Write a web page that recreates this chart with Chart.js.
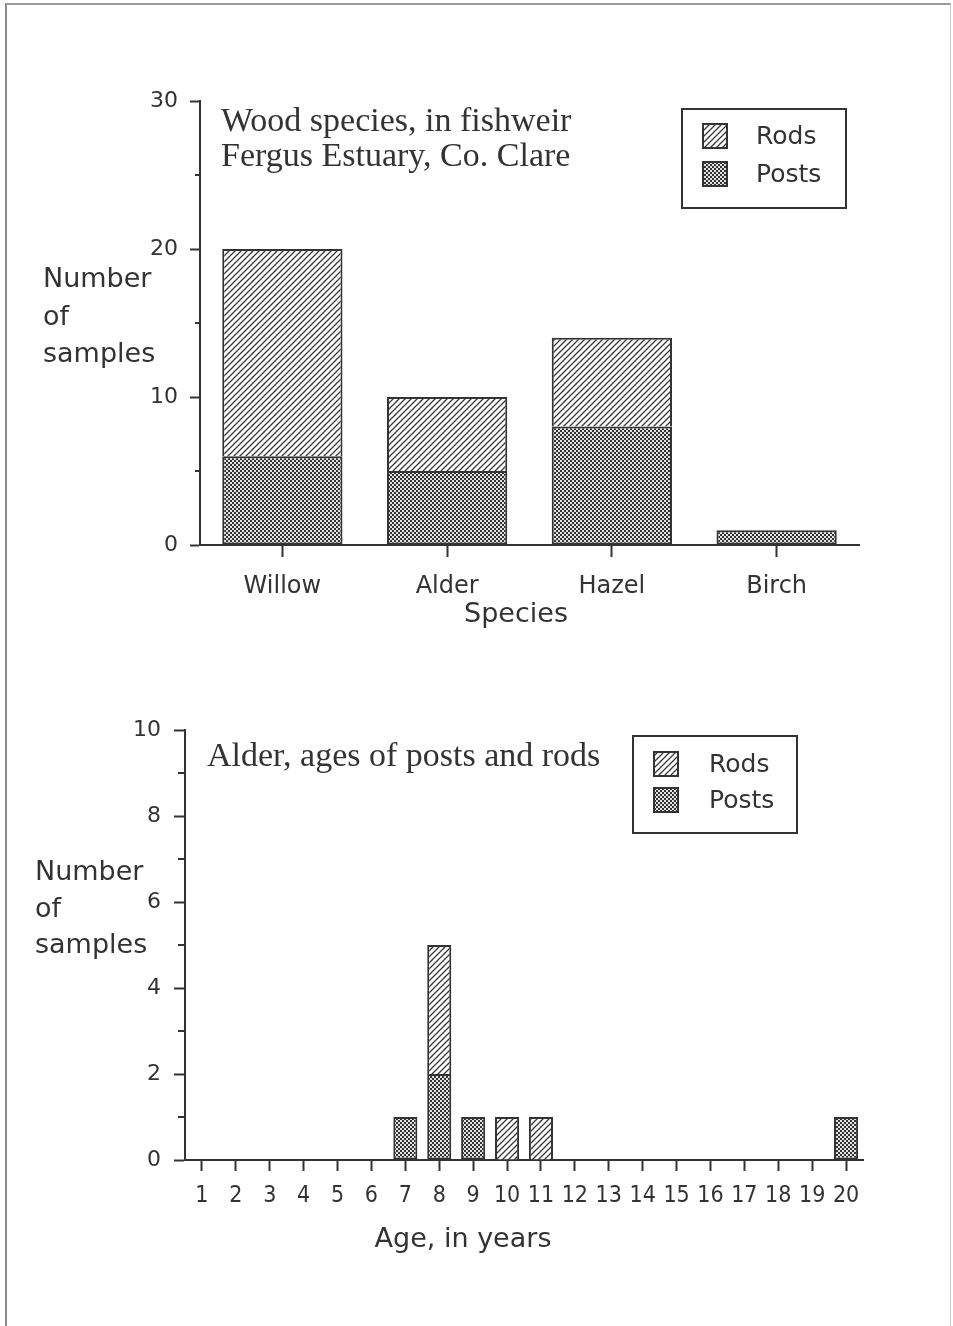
<!DOCTYPE html>
<html><head><meta charset="utf-8">
<script src="https://cdn.jsdelivr.net/npm/chart.js@4.4.1/dist/chart.umd.min.js"></script>
<style>
html,body{margin:0;padding:0;background:#fff;}
#page{position:relative;width:953px;height:1326px;overflow:hidden;background:#fff;}
#frame{position:absolute;left:5px;top:3px;width:943px;height:1340px;border-left:2px solid #8a8a8a;border-top:2px solid #9a9a9a;border-right:1px solid #d0d0d0;}
canvas{position:absolute;left:0;}
</style></head><body>
<div id="page"><div id="frame"></div>
<canvas id="c1" width="953" height="660" style="top:0"></canvas>
<canvas id="c2" width="953" height="666" style="top:660px"></canvas>
</div>
<script>
// ---- data ----
const species = ['Willow', 'Alder', 'Hazel', 'Birch'];
const speciesPosts = [6, 5, 8, 1];
const speciesRods = [14, 5, 6, null];
const speciesMajorTicks = [0, 10, 20, 30];
const speciesMinorTicks = [5, 15, 25];

const ages = ['1','2','3','4','5','6','7','8','9','10','11','12','13','14','15','16','17','18','19','20'];
const agePosts = [null,null,null,null,null,null,1,2,1,null,null,null,null,null,null,null,null,null,null,1];
const ageRods  = [null,null,null,null,null,null,null,3,null,1,1,null,null,null,null,null,null,null,null,null];
const ageMajorTicks = [0, 2, 4, 6, 8, 10];
const ageMinorTicks = [1, 3, 5, 7, 9];

const INK = '#333333';
const SANS = '"DejaVu Sans", Verdana, sans-serif';
const SERIF = '"Liberation Serif", "Times New Roman", serif';

function makeHatch(ctx) {
  const n = 6;
  const c = document.createElement('canvas'); c.width = n; c.height = n;
  const x = c.getContext('2d');
  x.fillStyle = '#fff'; x.fillRect(0, 0, n, n);
  x.strokeStyle = '#3a3a3a'; x.lineWidth = 1.3;
  x.beginPath();
  x.moveTo(-1, n + 1); x.lineTo(n + 1, -1);
  x.moveTo(-1, 1); x.lineTo(1, -1);
  x.moveTo(n - 1, n + 1); x.lineTo(n + 1, n - 1);
  x.stroke();
  return ctx.createPattern(c, 'repeat');
}
function makeDots(ctx) {
  const c = document.createElement('canvas'); c.width = 4; c.height = 4;
  const x = c.getContext('2d');
  x.fillStyle = '#333'; x.fillRect(0, 0, 4, 4);
  x.fillStyle = '#e2e2e2'; x.fillRect(0, 0, 2, 2); x.fillRect(2, 2, 2, 2);
  return ctx.createPattern(c, 'repeat');
}

function decoPlugin(d) {
  return {
    id: 'deco',
    afterDraw(chart) {
      const ctx = chart.ctx, ca = chart.chartArea, ys = chart.scales.y;
      ctx.save();
      // minor ticks
      ctx.strokeStyle = INK; ctx.lineWidth = 2;
      d.minor.forEach(v => {
        const py = Math.round(ys.getPixelForValue(v));
        ctx.beginPath(); ctx.moveTo(ca.left - d.minorLen, py); ctx.lineTo(ca.left, py); ctx.stroke();
      });
      ctx.fillStyle = INK; ctx.textBaseline = 'middle';
      // title
      ctx.font = d.titleSize + 'px ' + SERIF; ctx.textAlign = 'left';
      d.title.forEach((t, i) => ctx.fillText(t, d.titleX, d.titleY + i * 35));
      // y axis title
      ctx.font = d.axisSize + 'px ' + SANS;
      d.yTitle.forEach((t, i) => ctx.fillText(t, d.yTitleX, d.yTitleY[i]));
      // x axis title
      ctx.textAlign = 'center';
      ctx.fillText(d.xTitle, d.xTitleX, d.xTitleY);
      // legend
      const L = d.legend;
      ctx.strokeStyle = INK; ctx.lineWidth = 2;
      ctx.strokeRect(L.x, L.y, L.w, L.h);
      const items = [{t: 'Rods', f: d.hatch}, {t: 'Posts', f: d.dots}];
      ctx.font = d.legendSize + 'px ' + SANS; ctx.textAlign = 'left';
      items.forEach((it, i) => {
        const sy = L.sy[i];
        ctx.fillStyle = it.f; ctx.fillRect(L.sx, sy, 24, 24);
        ctx.strokeStyle = INK; ctx.lineWidth = 2; ctx.strokeRect(L.sx, sy, 24, 24);
        ctx.fillStyle = INK; ctx.fillText(it.t, L.tx, sy + 13);
      });
      ctx.restore();
    }
  };
}

function buildChart(id, o) {
  const canvas = document.getElementById(id);
  const ctx = canvas.getContext('2d');
  const hatch = makeHatch(ctx), dots = makeDots(ctx);
  o.deco.hatch = hatch; o.deco.dots = dots;
  return new Chart(ctx, {
    type: 'bar',
    data: {
      labels: o.labels,
      datasets: [
        {label: 'Posts', data: o.posts, backgroundColor: dots, borderColor: INK, borderWidth: 2, borderSkipped: false,
         barPercentage: o.barPct, categoryPercentage: 1},
        {label: 'Rods', data: o.rods, backgroundColor: hatch, borderColor: INK, borderWidth: 2, borderSkipped: 'bottom',
         barPercentage: o.barPct, categoryPercentage: 1}
      ]
    },
    options: {
      responsive: false, animation: false, devicePixelRatio: 1,
      layout: {padding: o.padding},
      plugins: {legend: {display: false}, tooltip: {enabled: false}},
      scales: {
        x: {
          stacked: true,
          grid: {display: true, drawOnChartArea: false, drawTicks: true, tickLength: o.xTickLen, offset: false,
                 tickColor: INK, tickWidth: 2, color: INK},
          border: {display: true, color: INK, width: 2},
          ticks: {color: INK, font: o.xFont, padding: o.xPad, maxRotation: 0, autoSkip: false},
          afterFit: s => { s.height = 60; }
        },
        y: {
          stacked: true, min: 0, max: o.max,
          afterBuildTicks: s => { s.ticks = o.major.map(v => ({value: v})); },
          grid: {display: true, drawOnChartArea: false, drawTicks: true, tickLength: o.yTickLen,
                 tickColor: INK, tickWidth: 2, color: INK},
          border: {display: true, color: INK, width: 2},
          ticks: {color: INK, font: {family: SANS, size: 22}, padding: o.yPad},
          afterFit: s => { s.width = 100; }
        }
      }
    },
    plugins: [decoPlugin(o.deco)]
  });
}

buildChart('c1', {
  labels: species, posts: speciesPosts, rods: speciesRods, max: 30,
  major: speciesMajorTicks, barPct: 0.73,
  padding: {left: 100, right: 94, top: 101, bottom: 55},
  xTickLen: 12, xPad: 15, xFont: {family: SANS, size: 24},
  yTickLen: 10, yPad: 12,
  deco: {
    minor: speciesMinorTicks, minorLen: 5,
    title: ['Wood species, in fishweir', 'Fergus Estuary, Co. Clare'], titleX: 221, titleY: 122, titleSize: 34,
    axisSize: 27, yTitle: ['Number', 'of', 'samples'], yTitleX: 43, yTitleY: [280, 318, 355],
    xTitle: 'Species', xTitleX: 516, xTitleY: 615,
    legendSize: 25,
    legend: {x: 682, y: 109, w: 164, h: 99, sx: 703, sy: [124, 162], tx: 756}
  }
});

buildChart('c2', {
  labels: ages, posts: agePosts, rods: ageRods, max: 10,
  major: ageMajorTicks, barPct: 0.71,
  padding: {left: 85, right: 90, top: 70, bottom: 106},
  xTickLen: 11, xPad: 11, xFont: {family: '"Liberation Sans Narrow", "DejaVu Sans Condensed", sans-serif', size: 23},
  yTickLen: 11, yPad: 13,
  deco: {
    minor: ageMinorTicks, minorLen: 7,
    title: ['Alder, ages of posts and rods'], titleX: 207, titleY: 97, titleSize: 34,
    axisSize: 27, yTitle: ['Number', 'of', 'samples'], yTitleX: 35, yTitleY: [213, 250, 286],
    xTitle: 'Age, in years', xTitleX: 463, xTitleY: 580,
    legendSize: 25,
    legend: {x: 633, y: 76, w: 164, h: 97, sx: 654, sy: [92, 128], tx: 709}
  }
});
</script>
</body></html>
